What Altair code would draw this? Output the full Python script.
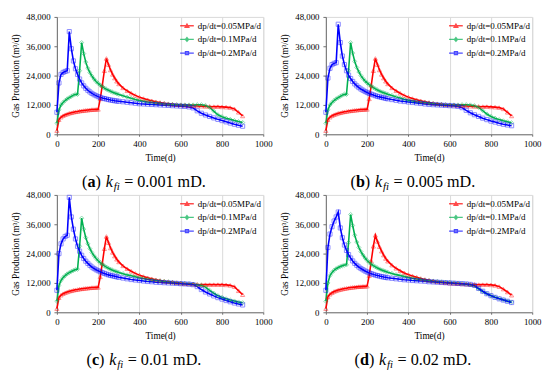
import altair as alt
import pandas as pd

# ---------------- data (values in thousand m3/d) ----------------
T = [0, 10, 20, 30, 40, 50, 60, 70, 80, 90,
     100, 110, 120, 130, 140, 150, 160, 170, 180, 190,
     200, 210, 220, 230, 240, 250, 260, 270, 280, 290,
     300,
     320, 340, 360, 380, 400, 420, 440, 460, 480, 500,
     520, 540, 560, 580, 600, 620, 640, 660, 680, 700,
     720, 740, 760, 780, 800, 820, 840, 860, 880, 900]

RED_A = [1.5, 6.0, 7.0, 7.6, 8.0, 8.3, 8.6, 8.8, 9.0, 9.2,
         9.3, 9.5, 9.6, 9.7, 9.8, 9.9, 10.0, 10.1, 10.1, 10.2,
         10.2, 14.5, 20.0, 26.0, 31.0, 28.5, 26.3, 24.5, 23.0, 21.7,
         20.6,
         19.0, 17.8, 16.8, 15.9, 15.2, 14.6, 14.1, 13.7, 13.3, 13.0,
         12.7, 12.5, 12.3, 12.1, 12.0, 11.9, 11.8, 11.7, 11.6, 11.5,
         11.4, 11.4, 11.3, 11.3, 11.2, 11.1, 10.9, 10.4, 9.0, 7.5]
GREEN_A = [4.5, 10.0, 12.0, 13.0, 13.8, 14.5, 15.0, 15.5, 16.0, 16.4,
           16.3, 26.0, 37.5, 33.0, 29.5, 27.0, 25.2, 23.8, 22.6, 21.6,
           20.8, 20.1, 19.5, 18.9, 18.4, 18.0, 17.6, 17.2, 16.9, 16.6,
           16.3,
           15.8, 15.2, 14.7, 14.2, 13.8, 13.5, 13.2, 13.0, 12.8, 12.6,
           12.4, 12.3, 12.2, 12.1, 12.0, 12.0, 12.0, 12.0, 12.1, 12.1,
           11.8, 11.0, 9.5, 8.0, 7.2, 6.6, 6.1, 5.6, 5.2, 4.8]
BLUE_A = [9.0, 21.0, 24.5, 25.3, 25.7, 26.0, 42.0, 35.0, 30.0, 26.8,
          24.5, 22.6, 21.0, 19.8, 18.8, 18.0, 17.3, 16.7, 16.2, 15.8,
          15.4, 15.1, 14.8, 14.6, 14.4, 14.2, 14.0, 13.9, 13.7, 13.6,
          13.5,
          13.3, 13.1, 12.9, 12.7, 12.5, 12.4, 12.3, 12.2, 12.1, 12.0,
          11.9, 11.8, 11.7, 11.6, 11.5, 11.4, 11.2, 10.8, 9.6, 8.6,
          7.9, 7.3, 6.7, 6.1, 5.6, 5.1, 4.6, 4.1, 3.7, 3.3]

RED_B = [1.5, 6.0, 7.0, 7.6, 8.0, 8.3, 8.6, 8.8, 9.0, 9.2,
         9.3, 9.5, 9.6, 9.7, 9.8, 9.9, 10.0, 10.1, 10.1, 10.2,
         10.2, 14.5, 20.0, 26.0, 31.0, 28.5, 26.3, 24.5, 23.0, 21.7,
         20.6,
         19.0, 17.8, 16.8, 15.9, 15.2, 14.6, 14.1, 13.7, 13.3, 13.0,
         12.7, 12.5, 12.3, 12.1, 12.0, 11.9, 11.8, 11.7, 11.6, 11.5,
         11.4, 11.4, 11.3, 11.3, 11.2, 11.1, 10.9, 10.4, 9.0, 7.5]
GREEN_B = [4.5, 10.0, 12.0, 13.0, 13.8, 14.5, 15.0, 15.5, 16.0, 16.4,
           16.3, 26.0, 37.5, 33.2, 29.8, 27.3, 25.5, 24.0, 22.8, 21.8,
           21.0, 20.3, 19.7, 19.1, 18.6, 18.1, 17.7, 17.3, 17.0, 16.7,
           16.4,
           15.9, 15.3, 14.8, 14.3, 13.9, 13.6, 13.3, 13.1, 12.9, 12.7,
           12.5, 12.3, 12.2, 12.1, 12.0, 12.0, 12.0, 12.1, 12.1, 12.0,
           11.7, 11.0, 9.7, 8.3, 7.3, 6.6, 6.0, 5.5, 5.1, 4.7]
BLUE_B = [9.0, 23.0, 27.0, 28.5, 29.0, 29.3, 45.0, 37.5, 32.0, 28.5,
          26.0, 24.2, 22.8, 21.6, 20.6, 19.8, 19.1, 18.5, 18.0, 17.5,
          17.1, 16.7, 16.4, 16.1, 15.8, 15.5, 15.3, 15.1, 14.9, 14.7,
          14.5,
          14.2, 13.9, 13.6, 13.4, 13.2, 13.0, 12.8, 12.6, 12.4, 12.2,
          12.1, 12.0, 11.9, 11.8, 11.7, 11.6, 11.4, 10.9, 9.8, 8.8,
          8.0, 7.3, 6.6, 6.0, 5.4, 5.0, 4.5, 4.1, 3.8, 3.5]

RED_C = [1.5, 6.0, 7.0, 7.6, 8.0, 8.3, 8.6, 8.8, 9.0, 9.2,
         9.3, 9.5, 9.6, 9.7, 9.8, 9.9, 10.0, 10.1, 10.1, 10.2,
         10.2, 14.5, 20.0, 26.0, 31.0, 28.5, 26.3, 24.5, 23.0, 21.7,
         20.6,
         19.0, 17.8, 16.8, 15.9, 15.2, 14.6, 14.1, 13.7, 13.3, 13.0,
         12.7, 12.5, 12.3, 12.1, 11.9, 11.7, 11.6, 11.5, 11.4, 11.3,
         11.3, 11.3, 11.3, 11.3, 11.3, 11.2, 11.0, 10.5, 8.8, 7.2]
GREEN_C = [4.5, 11.0, 13.0, 14.2, 15.0, 15.7, 16.2, 16.7, 17.1, 17.5,
           17.6, 27.0, 38.5, 34.0, 30.5, 28.0, 26.0, 24.4, 23.1, 22.0,
           21.1, 20.3, 19.6, 19.0, 18.5, 18.0, 17.6, 17.2, 16.9, 16.6,
           16.3,
           15.8, 15.3, 14.9, 14.5, 14.1, 13.8, 13.5, 13.2, 13.0, 12.8,
           12.6, 12.4, 12.2, 12.0, 11.9, 11.8, 11.7, 11.5, 11.2, 11.0,
           10.3, 9.0, 7.8, 6.8, 6.1, 5.5, 5.0, 4.6, 4.2, 3.9]
BLUE_C = [9.0, 24.0, 28.0, 30.0, 31.0, 31.5, 47.0, 39.0, 34.0, 30.0,
          27.0, 25.0, 23.3, 22.0, 20.9, 20.0, 19.2, 18.5, 17.9, 17.4,
          17.0, 16.6, 16.2, 15.9, 15.6, 15.3, 15.1, 14.9, 14.7, 14.5,
          14.3,
          14.0, 13.7, 13.4, 13.2, 13.0, 12.8, 12.6, 12.5, 12.3, 12.2,
          12.1, 12.0, 11.9, 11.8, 11.7, 11.6, 11.5, 11.3, 10.5, 9.3,
          8.3, 7.5, 6.7, 6.0, 5.4, 4.8, 4.3, 3.8, 3.4, 3.0]

RED_D = [1.5, 6.3, 7.4, 8.0, 8.5, 8.8, 9.1, 9.3, 9.5, 9.7,
         9.8, 10.0, 10.1, 10.2, 10.3, 10.4, 10.5, 10.5, 10.6, 10.6,
         10.7, 15.0, 21.0, 27.0, 31.5, 29.0, 26.8, 25.0, 23.4, 22.0,
         20.9,
         19.3, 18.0, 17.0, 16.1, 15.4, 14.8, 14.3, 13.8, 13.4, 13.1,
         12.8, 12.5, 12.3, 12.1, 11.9, 11.8, 11.7, 11.6, 11.5, 11.4,
         11.4, 11.3, 11.3, 11.3, 11.2, 11.0, 10.5, 9.5, 8.3, 7.0]
GREEN_D = [4.5, 12.0, 15.0, 16.3, 17.2, 17.8, 18.3, 18.7, 19.0, 19.3,
           19.4, 28.5, 40.0, 35.5, 31.5, 28.7, 26.5, 24.8, 23.4, 22.2,
           21.2, 20.4, 19.7, 19.1, 18.6, 18.1, 17.7, 17.3, 17.0, 16.7,
           16.4,
           15.9, 15.4, 15.0, 14.6, 14.2, 13.9, 13.6, 13.4, 13.1, 12.9,
           12.7, 12.6, 12.4, 12.3, 12.2, 12.0, 11.9, 11.7, 11.5, 11.2,
           10.8, 9.6, 8.5, 7.6, 6.8, 6.2, 5.6, 5.1, 4.6, 4.2]
BLUE_D = [9.0, 26.5, 32.0, 35.0, 37.3, 39.0, 41.0, 34.5, 30.5, 27.5,
          25.3, 23.6, 22.2, 21.0, 20.0, 19.2, 18.5, 17.9, 17.4, 16.9,
          16.5, 16.1, 15.8, 15.5, 15.2, 15.0, 14.8, 14.6, 14.4, 14.3,
          14.1,
          13.9, 13.7, 13.5, 13.3, 13.2, 13.0, 12.9, 12.8, 12.7, 12.5,
          12.4, 12.3, 12.2, 12.1, 12.0, 11.9, 11.8, 11.7, 11.6, 11.4,
          11.0, 9.8, 8.6, 7.6, 6.8, 6.1, 5.5, 5.0, 4.5, 4.0]

SERIES = ["dp/dt=0.05MPa/d", "dp/dt=0.1MPa/d", "dp/dt=0.2MPa/d"]
LETTERS = ["a", "b", "c", "d"]
KVALUES = ["0.001", "0.005", "0.01", "0.02"]
X_TICKS = [0, 200, 400, 600, 800, 1000]
Y_TICKS = [0, 12000, 24000, 36000, 48000]

# ---------------- styles ----------------
COLORS = ["#FF0000", "#00B050", "#0000FF"]
MARKERS = ["triangle-up", "diamond", "square"]
LEGEND_SYMBOLS = [
    "M-1,0H1M-0.26,0.22L0,-0.24L0.26,0.22Z",
    "M-1,0H1M0,-0.26L0.22,0L0,0.26L-0.22,0Z",
    "M-1,0H1M-0.22,-0.22H0.22V0.22H-0.22Z",
]
FONT = "Liberation Serif"
W, H = 211, 120
CAP_SIZE = 16.5
SUB_SIZE = 11
# approximate Times em widths used to lay out the caption pieces
BOLD_W = {"a": 0.5, "b": 0.556, "c": 0.444, "d": 0.556}


def txt(s, x, y, size=CAP_SIZE, weight="normal", style="normal"):
    return alt.Chart(alt.Data(values=[{"k": 1}])).mark_text(
        text=s, align="left", baseline="alphabetic", font=FONT,
        fontSize=size, fontWeight=weight, fontStyle=style, color="black"
    ).encode(x=alt.value(x), y=alt.value(y))


def caption(letter, kval):
    e = CAP_SIZE
    rest = "= " + kval + " mD."
    rest_w = (0.564 + 0.25 + (len(kval) - 1) * 0.5 + 0.25 + 0.25 + 1.75) * e
    w_open = 0.333 * e
    w_let = BOLD_W[letter] * e
    gap1 = 0.3 * e
    w_k = 0.444 * e + 0.05 * e
    w_fi = 0.556 * SUB_SIZE
    gap2 = 0.28 * e
    total = w_open + w_let + w_open + gap1 + w_k + w_fi + gap2 + rest_w
    x0 = 89 - total / 2
    yb = H + 54
    x1 = x0 + w_open
    x2 = x1 + w_let
    x3 = x2 + w_open + gap1
    x4 = x3 + w_k
    x5 = x4 + w_fi + gap2
    return [
        txt("(", x0, yb),
        txt(letter, x1, yb, weight="bold"),
        txt(")", x2, yb),
        txt("k", x3, yb, style="italic"),
        txt("fi", x4, yb + 3, size=SUB_SIZE, style="italic"),
        txt(rest, x5, yb),
    ]


def panel(red, green, blue, letter, kval):
    rows = []
    for s, m, vals in zip(SERIES, MARKERS, [red, green, blue]):
        for t, v in zip(T, vals):
            rows.append({"t": t, "q": v * 1000, "series": s, "mk": m})
    df = pd.DataFrame(rows)

    x = alt.X("t:Q", scale=alt.Scale(domain=[0, 1000], nice=False),
              axis=alt.Axis(values=X_TICKS, format="d", title="Time(d)",
                            grid=True, gridColor="#D9D9D9", gridWidth=1,
                            domainColor="#6E6E6E", tickColor="#6E6E6E",
                            tickSize=2, labelFont=FONT, labelFontSize=9,
                            labelColor="black", labelPadding=4,
                            labelFlush=False, titleFont=FONT,
                            titleFontSize=9.5, titleFontWeight="normal",
                            titleColor="black", titlePadding=4))
    y = alt.Y("q:Q", scale=alt.Scale(domain=[0, 48000], nice=False),
              axis=alt.Axis(values=Y_TICKS, format=",.0f", grid=False,
                            title="Gas Production (m³/d)",
                            domainColor="#6E6E6E", tickColor="#6E6E6E",
                            tickSize=3, labelFont=FONT, labelFontSize=9,
                            labelColor="black", labelPadding=4,
                            titleFont=FONT, titleFontSize=9.5,
                            titleFontWeight="normal", titleColor="black",
                            titlePadding=5))
    cscale = alt.Scale(domain=SERIES, range=COLORS)
    leg = dict(title=None, orient="none", legendX=125, legendY=1,
               direction="vertical", symbolSize=196, symbolStrokeWidth=1.4,
               labelFont=FONT, labelFontSize=9.2, labelColor="black",
               labelOffset=3, rowPadding=0, padding=0, labelLimit=200)

    base = alt.Chart(df)
    legend_layer = base.transform_filter("false").mark_point(
        filled=False, strokeWidth=1.4).encode(
        x=x, y=y,
        color=alt.Color("series:N", scale=cscale, legend=alt.Legend(**leg)),
        shape=alt.Shape("series:N",
                        scale=alt.Scale(domain=SERIES, range=LEGEND_SYMBOLS),
                        legend=alt.Legend(**leg)))
    lines = base.mark_line(strokeWidth=1.6).encode(
        x=x, y=y, color=alt.Color("series:N", scale=cscale, legend=None))
    pts = base.mark_point(filled=False, size=18, strokeWidth=1,
                          opacity=0.45).encode(
        x=x, y=y, color=alt.Color("series:N", scale=cscale, legend=None),
        shape=alt.Shape("mk:N", scale=None, legend=None))
    return alt.layer(legend_layer, lines, pts, *caption(letter, kval)).properties(
        width=W, height=H)


panels = [panel(r, g, b, l, k) for r, g, b, l, k in zip(
    [RED_A, RED_B, RED_C, RED_D], [GREEN_A, GREEN_B, GREEN_C, GREEN_D],
    [BLUE_A, BLUE_B, BLUE_C, BLUE_D], LETTERS, KVALUES)]

res = dict(color="independent", shape="independent")
chart = alt.concat(*panels, columns=2, spacing={"row": 62, "column": 64},
                   bounds="flush") \
    .resolve_scale(**res).resolve_legend(**res) \
    .properties(padding={"left": 2, "top": 0, "right": 0, "bottom": 0},
                background="white") \
    .configure_view(stroke="#D9D9D9", strokeWidth=1)

chart.save("out.html", embed_options={"renderer": "svg", "actions": False})
